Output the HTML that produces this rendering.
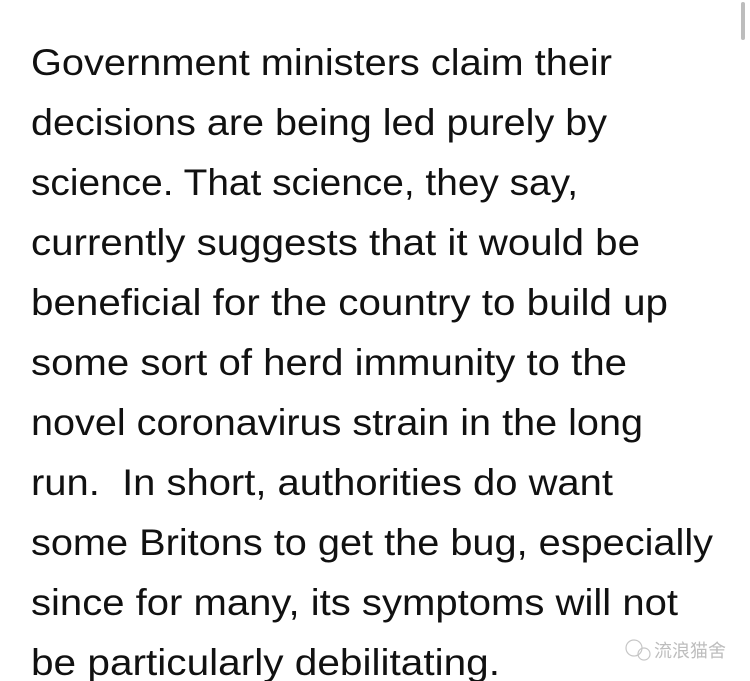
<!DOCTYPE html>
<html><head><meta charset="utf-8"><style>
html,body{margin:0;padding:0;background:#fff;width:750px;height:681px;overflow:hidden}
svg{display:block}
text{font-family:"Liberation Sans",sans-serif;font-size:37px;fill:#111}
</style></head><body>
<svg width="750" height="681">
<rect x="741" y="2" width="4" height="38" rx="2" fill="#bdbdbd"/>
<text x="31" y="75" textLength="581" lengthAdjust="spacingAndGlyphs">Government ministers claim their</text>
<text x="31" y="135" textLength="576" lengthAdjust="spacingAndGlyphs">decisions are being led purely by</text>
<text x="31" y="195" textLength="547" lengthAdjust="spacingAndGlyphs">science. That science, they say,</text>
<text x="31" y="255" textLength="609" lengthAdjust="spacingAndGlyphs">currently suggests that it would be</text>
<text x="31" y="315" textLength="637" lengthAdjust="spacingAndGlyphs">beneficial for the country to build up</text>
<text x="31" y="375" textLength="596" lengthAdjust="spacingAndGlyphs">some sort of herd immunity to the</text>
<text x="31" y="435" textLength="612" lengthAdjust="spacingAndGlyphs">novel coronavirus strain in the long</text>
<text x="31" y="495" textLength="582" lengthAdjust="spacingAndGlyphs">run.&#160; In short, authorities do want</text>
<text x="31" y="555" textLength="682" lengthAdjust="spacingAndGlyphs">some Britons to get the bug, especially</text>
<text x="31" y="615" textLength="647" lengthAdjust="spacingAndGlyphs">since for many, its symptoms will not</text>
<text x="31" y="675" textLength="469" lengthAdjust="spacingAndGlyphs">be particularly debilitating.</text>
<g opacity="0.55">
<circle cx="634" cy="648" r="8" fill="none" stroke="#999" stroke-width="1.2"/>
<circle cx="644" cy="654" r="6" fill="none" stroke="#999" stroke-width="1.2"/>
<text x="654" y="657" style="font-family:'Liberation Sans','Noto Sans CJK SC',sans-serif;font-size:18px;fill:#888">流浪猫舍</text>
</g>
</svg>
</body></html>
